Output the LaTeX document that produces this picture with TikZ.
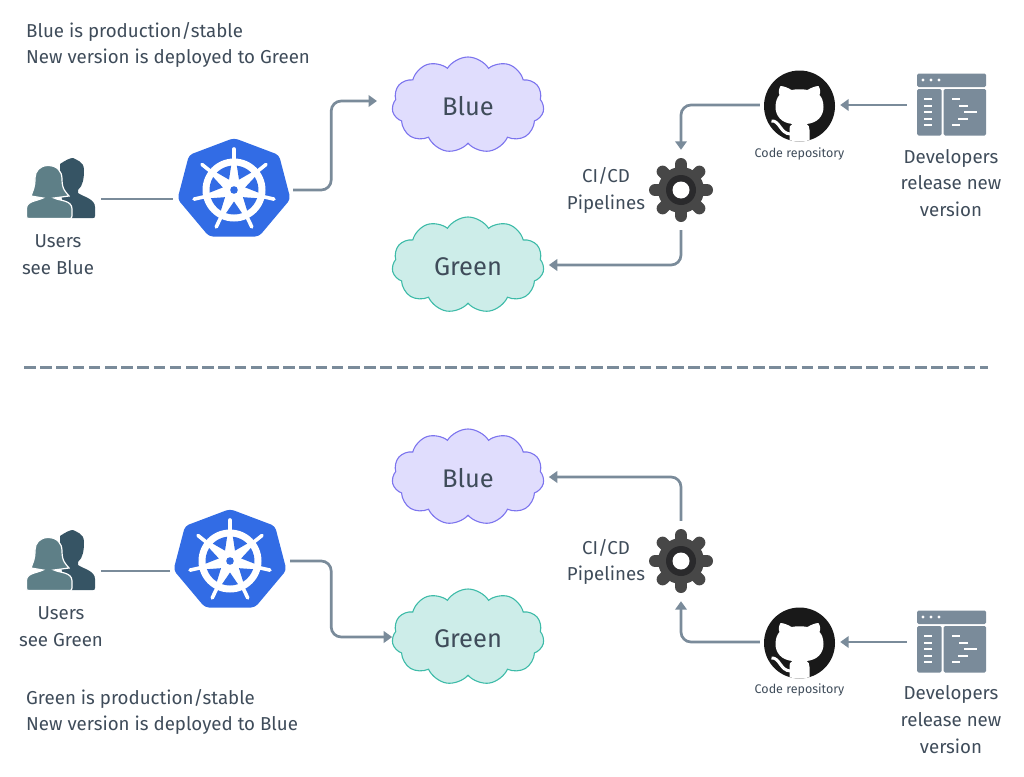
\documentclass[tikz,border=0pt]{standalone}
\usepackage{fontspec}
\setmainfont{Fira Sans}
\usepackage{xcolor}
\usetikzlibrary{arrows.meta, shapes.symbols}
\definecolor{linkgray}{HTML}{7A8B9A}
\definecolor{inkgray}{HTML}{3F4C5A}
\definecolor{helmblue}{HTML}{326CE5}
\definecolor{gearhub}{HTML}{2A2A2C}
\definecolor{userdark}{HTML}{365464}
\definecolor{userlight}{HTML}{5E7F87}
\definecolor{gearbody}{HTML}{474747}
\definecolor{cloudblue}{HTML}{E0DDFD}
\definecolor{cloudblueline}{HTML}{7C74EE}
\definecolor{cloudgreen}{HTML}{CDEDE9}
\definecolor{cloudgreenline}{HTML}{3DBBA8}
\tikzset{
  pics/users/.style={code={
    \begin{scope}[shift={(-61,-199)}]
      \fill[userdark] (60,164) .. controls (66,160) and (70,158) .. (73,158)
        .. controls (76,160) and (84,161) .. (84,170) .. controls (84,178) and (83,186) .. (78,190)
        -- (78,193) .. controls (84,197) and (95,199) .. (95,207) -- (95,216)
        .. controls (95,218) and (94,218) .. (93,218) -- (66,218) -- (60,190) -- cycle;
      \filldraw[fill=userlight, draw=white, line width=1.2pt] (48,165.5) .. controls (57,165.5) and (62,171) .. (62,179)
        .. controls (62,190) and (66,192) .. (69,196) -- (54,198)
        .. controls (60,201) and (72,200) .. (72,209) -- (72,216)
        .. controls (72,218) and (71,218.5) .. (70,218.5) -- (29,218.5)
        .. controls (27,218.5) and (26.5,218) .. (26.5,216) -- (26.5,208)
        .. controls (27,201) and (37,201) .. (43,198) -- (31,196)
        .. controls (33,190) and (35,188) .. (35,178) .. controls (35,171) and (40,165.5) .. (48,165.5) -- cycle;
    \end{scope}
  }},
  pics/helm/.style={code={
    \fill[helmblue, rounded corners=4pt] (0,-52) -- (45,-35) -- (56.5,9) -- (25,46.5)
      -- (-25,46.5) -- (-56.5,9) -- (-45,-35) -- cycle;
    \fill[white] (0,0) circle[radius=31.5];
    \foreach \a in {-90,-141.43,-192.86,-244.29,-295.71,-347.14,-38.57} {
      \draw[white, line width=3.6pt, line cap=round] (\a:29) -- (\a:41);
      \fill[helmblue] (\a+25.71:11.5) -- (\a+6.7:24.5) -- (\a+16.2:24.5) -- (\a+25.71:24.5)
        -- (\a+35.2:24.5) -- (\a+44.7:24.5) -- cycle;
    }
    \fill[helmblue] (0,0) circle[radius=3.8];
  }},
  pics/octocat/.style={code={
    \fill[black!90] (0,0) circle[radius=35.5];
    \clip (0,0) circle[radius=35.5];
    \fill[white] (-10,37) -- (-10,24) .. controls (-11,21) and (-9,19) .. (-7,18)
      .. controls (-18,17) and (-24,10) .. (-24,1) .. controls (-24,-5) and (-22,-9) .. (-20,-11)
      .. controls (-21,-13) and (-21,-17) .. (-19,-20) .. controls (-16,-20) and (-11,-18) .. (-8,-16)
      .. controls (-3,-17) and (3,-17) .. (8,-16) .. controls (11,-18) and (16,-20) .. (19,-20)
      .. controls (21,-17) and (21,-13) .. (20,-11) .. controls (22,-9) and (24,-5) .. (24,1)
      .. controls (24,10) and (18,17) .. (7,18) .. controls (9,19) and (10,21) .. (10,24) -- (10,37) -- cycle;
    \draw[white, line width=3pt] (-28,15) .. controls (-20,14) and (-19,28) .. (-9,28);
  }},
  pics/cogwheel/.style={code={
    \foreach \a in {0,45,...,315} {
      \draw[draw=gearbody, line width=12pt, line cap=round] (\a:20) -- (\a:26);
    }
    \fill[gearbody] (0,0) circle[radius=23];
    \fill[gearhub] (0,0) circle[radius=15];
    \fill[white] (0,0) circle[radius=8.5];
  }},
  pics/codewindow/.style={code={
    \begin{scope}[shift={(-951.5,-105)}]
      \fill[linkgray, rounded corners=1.5pt] (917,73.5) rectangle (986,87);
      \fill[linkgray, rounded corners=1.5pt] (917,89) rectangle (941.5,135.5);
      \fill[linkgray, rounded corners=1.5pt] (943.5,89) rectangle (986,135.5);
      \foreach \x in {923,931,939} { \fill[white] (\x,80) circle[radius=1.7]; }
      \foreach \y in {99,106,112,119,125} { \draw[white, line width=1.2pt] (924,\y) -- (932,\y); }
      \draw[white, line width=1.2pt] (952,99) -- (960,99) (959,106) -- (968,106) (964,112) -- (977,112)
        (958,119) -- (968,119) (952,125) -- (960,125);
    \end{scope}
  }},
}
\begin{document}
\begin{tikzpicture}[
  x=1pt, y=-1pt,
  link/.style={draw=linkgray, line width=2.7pt, rounded corners=10pt},
  flow/.style={link, -{Triangle[length=8.5pt, width=11.5pt]}},
  cloudbox/.style={cloud, cloud puffs=11, cloud puff arc=115, aspect=1.6, draw, line width=1.1pt,
    minimum width=152pt, minimum height=96pt, inner sep=0pt, text height=21pt, text depth=0pt,
    font=\fontsize{25.5}{25.5}\selectfont, text=inkgray},
  bluebox/.style={cloudbox, fill=cloudblue, draw=cloudblueline},
  greenbox/.style={cloudbox, fill=cloudgreen, draw=cloudgreenline},
  iconbox/.style={inner sep=0pt, minimum width=#1, minimum height=80pt},
  caption/.style={font=\fontsize{18.7}{26.7}\selectfont, text=inkgray, align=center, inner sep=0pt},
  note/.style={caption, align=left, anchor=west},
  small/.style={font=\fontsize{12.5}{13}\selectfont, text=inkgray, inner sep=0pt},
]
  \useasboundingbox (0,0) rectangle (1024,776);
  % upper half
  \node[note] (noteA) at (26,45) {Blue is production/stable\\New version is deployed to Green};
  \node[iconbox=80pt] (usersA) at (61,199) {};
  \pic at (usersA) {users};
  \node[caption] (usersTextA) at (58,255) {Users\\see Blue};
  \node[iconbox=120pt] (helmA) at (233,190) {};
  \pic at (234,190) {helm};
  \node[bluebox] (blueA) at (468,105) {Blue};
  \node[greenbox] (greenA) at (468,265) {Green};
  \coordinate (blueInA) at (377,101);
  \node[iconbox=80pt] (gearA) at (681,190) {};
  \pic at (gearA) {cogwheel};
  \node[caption] (gearTextA) at (606,190.5) {CI/CD\\Pipelines};
  \node[iconbox=80pt] (repoA) at (800,105) {};
  \pic at (799.5,106) {octocat};
  \node[small] (repoTextA) at (799.5,154) {Code repository};
  \node[iconbox=89pt] (devA) at (951.5,105) {};
  \pic at (devA) {codewindow};
  \node[caption] (devTextA) at (951,183) {Developers\\release new\\version};
  \draw[link] (usersA.east) -- (usersA.east -| helmA.west);
  \draw[flow] (helmA.east) -- ++(38,0) |- (blueInA);
  \draw[flow] (repoA.west) -| (gearA.north);
  \draw[flow] (gearA.south) |- ([xshift=5pt]greenA.east);
  \draw[flow] (devA.west) -- (repoA.east);
  % divider
  \coordinate (splitL) at (24,367);
  \coordinate (splitR) at (988,367);
  \draw[draw=linkgray, line width=3pt, dash pattern=on 11.5pt off 4.7pt] (splitL) -- (splitR);
  % lower half
  \node[iconbox=80pt] (usersB) at (61,571) {};
  \pic at (usersB) {users};
  \node[caption] (usersTextB) at (61,627) {Users\\see Green};
  \node[iconbox=120pt] (helmB) at (230,561) {};
  \pic at (230,561) {helm};
  \node[bluebox] (blueB) at (468,477) {Blue};
  \node[greenbox] (greenB) at (468,637) {Green};
  \node[iconbox=80pt] (gearB) at (681,561) {};
  \pic at (gearB) {cogwheel};
  \node[caption] (gearTextB) at (606,562) {CI/CD\\Pipelines};
  \node[iconbox=80pt] (repoB) at (800,642) {};
  \pic at (799.5,643) {octocat};
  \node[small] (repoTextB) at (799.5,690) {Code repository};
  \node[iconbox=89pt] (devB) at (951.5,642) {};
  \pic at (devB) {codewindow};
  \node[caption] (devTextB) at (951,719.5) {Developers\\release new\\version};
  \node[note] (noteB) at (26,712) {Green is production/stable\\New version is deployed to Blue};
  \draw[link] (usersB.east) -- (usersB.east -| helmB.west);
  \draw[flow] (helmB.east) -- ++(41,0) |- (greenB.west);
  \draw[flow] (gearB.north) |- ([xshift=5pt]blueB.east);
  \draw[flow] (repoB.west) -| (gearB.south);
  \draw[flow] (devB.west) -- (repoB.east);
\end{tikzpicture}
\end{document}
